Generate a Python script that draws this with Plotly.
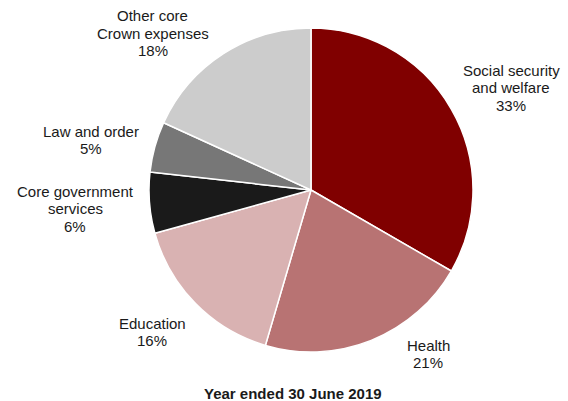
import plotly.graph_objects as go

# Core Crown expenses by functional category, year ended 30 June 2019
categories = [
    "Social security and welfare",
    "Health",
    "Education",
    "Core government services",
    "Law and order",
    "Other core Crown expenses",
]
share_pct = [33, 21, 16, 6, 5, 18]
label_lines = [
    ["Social security", "and welfare"],
    ["Health"],
    ["Education"],
    ["Core government", "services"],
    ["Law and order"],
    ["Other core", "Crown expenses"],
]
slice_colors = ["#800000", "#B87373", "#D9B2B2", "#1A1A1A", "#777777", "#CCCCCC"]

W, H = 568, 401
cx, cy, r = 311, 190, 162
LINE_H = 17.5

# Pixel position of the first line of each label block
label_pos = [(511, 70), (428, 345), (152, 323), (75, 191), (91, 131), (153, 16)]

fig = go.Figure(
    go.Pie(
        labels=categories,
        values=share_pct,
        sort=False,
        direction="clockwise",
        rotation=0,
        marker=dict(colors=slice_colors, line=dict(color="white", width=1.5)),
        textinfo="none",
        hoverinfo="label+percent",
        domain=dict(x=[(cx - r) / W, (cx + r) / W], y=[1 - (cy + r) / H, 1 - (cy - r) / H]),
        showlegend=False,
    )
)

font = dict(family="Liberation Sans, Arial, sans-serif", size=15, color="#1a1a1a")
for lines, pct, (px, py) in zip(label_lines, share_pct, label_pos):
    for i, line in enumerate(lines + [f"{pct}%"]):
        fig.add_annotation(
            text=line,
            x=px / W, y=1 - (py + i * LINE_H) / H, xref="paper", yref="paper",
            xanchor="center", yanchor="middle", showarrow=False,
            font=font,
        )

fig.add_annotation(
    text="<b>Year ended 30 June 2019</b>",
    x=293 / W, y=1 - 393 / H, xref="paper", yref="paper",
    xanchor="center", yanchor="middle", showarrow=False,
    font=font,
)

fig.update_layout(
    width=W, height=H,
    margin=dict(l=0, r=0, t=0, b=0),
    paper_bgcolor="white",
    plot_bgcolor="white",
)

fig.write_html("out.html")
